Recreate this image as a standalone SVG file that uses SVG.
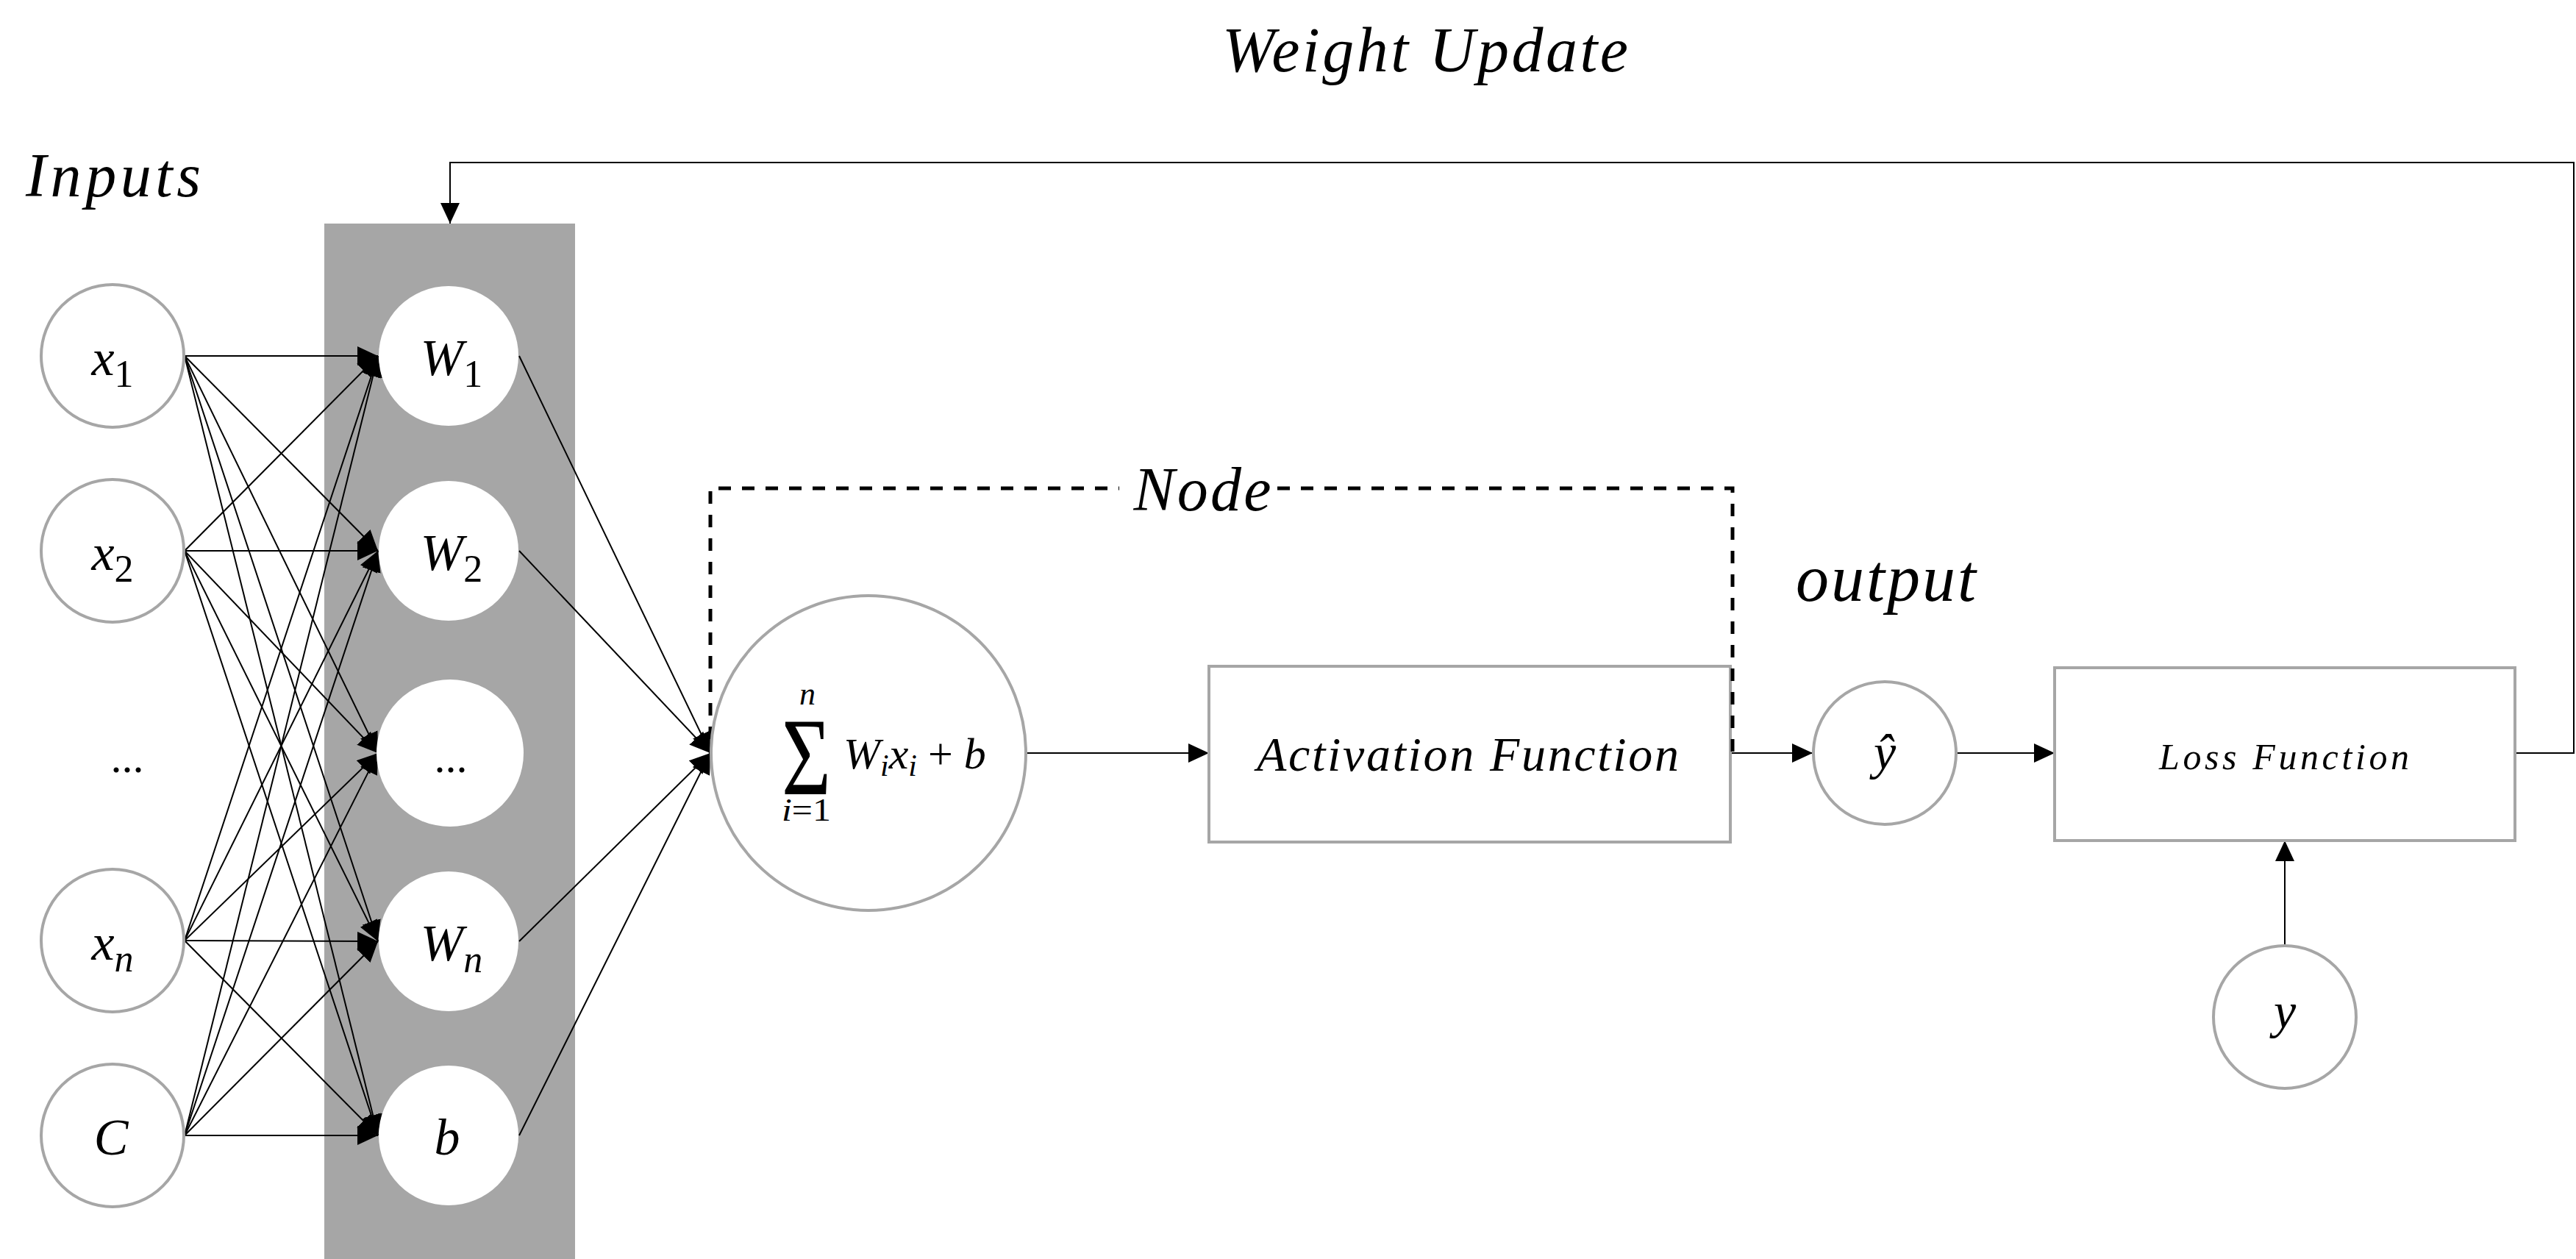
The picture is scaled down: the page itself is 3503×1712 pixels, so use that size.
<svg xmlns="http://www.w3.org/2000/svg" width="3503" height="1712" viewBox="0 0 3503 1712">
<style>
.t{font-family:"Liberation Serif","Times New Roman",serif;font-style:italic;fill:#000}
.u{font-style:normal}
.in{fill:#fff;stroke:#a6a6a6;stroke-width:4}
.w{fill:#fff;stroke:none}
.c{fill:none;stroke:#000;stroke-width:2}
.d{fill:none;stroke:#000;stroke-width:5;stroke-dasharray:17 15}
</style>
<defs>
<marker id="ah" markerUnits="userSpaceOnUse" markerWidth="28" markerHeight="26" refX="28" refY="13" orient="auto">
<path d="M0,0 L28,13 L0,26 z" fill="#000"/>
</marker>
</defs>
<rect width="3503" height="1712" fill="#fff"/>

<g id="labels">
<text class="t" x="1662" y="97" font-size="86" textLength="552">Weight Update</text>
<text class="t" x="35" y="267" font-size="84" textLength="238">Inputs</text>
<text class="t" x="2442" y="817" font-size="90" textLength="245">output</text>
</g>

<g id="weights-column">
<rect x="441" y="304" width="341" height="1408" fill="#a6a6a6"/>
</g>

<g id="connectors">
<g class="c" marker-end="url(#ah)">
<line x1="251" y1="484" x2="514" y2="484"/>
<line x1="251" y1="484" x2="514" y2="749"/>
<line x1="251" y1="484" x2="514" y2="1024"/>
<line x1="251" y1="484" x2="514" y2="1280"/>
<line x1="251" y1="484" x2="514" y2="1544"/>
<line x1="251" y1="749" x2="514" y2="484"/>
<line x1="251" y1="749" x2="514" y2="749"/>
<line x1="251" y1="749" x2="514" y2="1024"/>
<line x1="251" y1="749" x2="514" y2="1280"/>
<line x1="251" y1="749" x2="514" y2="1544"/>
<line x1="251" y1="1279" x2="514" y2="484"/>
<line x1="251" y1="1279" x2="514" y2="749"/>
<line x1="251" y1="1279" x2="514" y2="1024"/>
<line x1="251" y1="1279" x2="514" y2="1280"/>
<line x1="251" y1="1279" x2="514" y2="1544"/>
<line x1="251" y1="1544" x2="514" y2="484"/>
<line x1="251" y1="1544" x2="514" y2="749"/>
<line x1="251" y1="1544" x2="514" y2="1024"/>
<line x1="251" y1="1544" x2="514" y2="1280"/>
<line x1="251" y1="1544" x2="514" y2="1544"/>
<line x1="706" y1="484" x2="966" y2="1024"/>
<line x1="706" y1="749" x2="966" y2="1024"/>
<line x1="706" y1="1280" x2="966" y2="1024"/>
<line x1="706" y1="1544" x2="966" y2="1024"/>
<line x1="1396" y1="1024" x2="1644" y2="1024"/>
<line x1="2353" y1="1024" x2="2465" y2="1024"/>
<line x1="2661" y1="1024" x2="2794" y2="1024"/>
<line x1="3107" y1="1285" x2="3107" y2="1143"/>
<path d="M3420,1024 H3500 V221 H612 V304"/>
</g>
</g>

<g id="node-x1"><circle class="in" cx="153" cy="484" r="97"/>
<text class="t" x="153" y="510" font-size="70" text-anchor="middle">x<tspan class="u" font-size="52" dy="16">1</tspan></text></g>
<g id="node-x2"><circle class="in" cx="153" cy="749" r="97"/>
<text class="t" x="153" y="775" font-size="70" text-anchor="middle">x<tspan class="u" font-size="52" dy="16">2</tspan></text></g>
<g id="node-xdots"><text class="t u" x="173" y="1050" font-size="60" text-anchor="middle">...</text></g>
<g id="node-xn"><circle class="in" cx="153" cy="1279" r="97"/>
<text class="t" x="153" y="1305" font-size="70" text-anchor="middle">x<tspan font-size="52" dy="16">n</tspan></text></g>
<g id="node-C"><circle class="in" cx="153" cy="1544" r="97"/>
<text class="t" x="151" y="1570" font-size="70" text-anchor="middle">C</text></g>

<g id="node-W1"><circle class="w" cx="610" cy="484" r="95"/>
<text class="t" x="614" y="510" font-size="70" text-anchor="middle">W<tspan class="u" font-size="52" dy="16">1</tspan></text></g>
<g id="node-W2"><circle class="w" cx="610" cy="749" r="95"/>
<text class="t" x="614" y="775" font-size="70" text-anchor="middle">W<tspan class="u" font-size="52" dy="16">2</tspan></text></g>
<g id="node-Wdots"><circle class="w" cx="612" cy="1024" r="100"/>
<text class="t u" x="613" y="1050" font-size="60" text-anchor="middle">...</text></g>
<g id="node-Wn"><circle class="w" cx="610" cy="1280" r="95"/>
<text class="t" x="614" y="1306" font-size="70" text-anchor="middle">W<tspan font-size="52" dy="16">n</tspan></text></g>
<g id="node-b"><circle class="w" cx="610" cy="1544" r="95"/>
<text class="t" x="608" y="1570" font-size="70" text-anchor="middle">b</text></g>

<g id="node-activation">
<rect class="in" x="1644" y="906" width="709" height="239"/>
<text class="t" x="1996" y="1048" font-size="66" text-anchor="middle" textLength="574">Activation Function</text>
</g>

<g id="node-boundary">
<path class="d" d="M966,1005 V664 H1522"/>
<path class="d" d="M1737,664 H2356 V1024"/>
<text class="t" x="1635" y="694" font-size="84" text-anchor="middle" textLength="187">Node</text>
</g>

<g id="node-sum">
<circle class="in" cx="1181" cy="1024" r="214"/>
<text class="t u" x="1063" y="1080" font-size="150" textLength="67" lengthAdjust="spacingAndGlyphs">Σ</text>
<text class="t" x="1098" y="958" font-size="44" text-anchor="middle">n</text>
<text class="t" x="1063" y="1116" font-size="44" textLength="67" lengthAdjust="spacingAndGlyphs">i<tspan class="u">=1</tspan></text>
<text class="t" x="1147" y="1045" font-size="60">W<tspan font-size="42" dy="10">i</tspan><tspan dy="-10">x</tspan><tspan font-size="42" dy="10">i</tspan><tspan class="u" dy="-10"> + </tspan>b</text>
</g>

<g id="node-yhat"><circle class="in" cx="2563" cy="1024" r="97"/>
<text class="t" x="2563" y="1046" font-size="68" text-anchor="middle">ŷ</text></g>

<g id="node-loss">
<rect class="in" x="2794" y="908" width="626" height="235"/>
<text class="t" x="3106" y="1046" font-size="50" text-anchor="middle" textLength="340">Loss Function</text>
</g>

<g id="node-y"><circle class="in" cx="3107" cy="1383" r="97"/>
<text class="t" x="3107" y="1398" font-size="68" text-anchor="middle">y</text></g>
</svg>
